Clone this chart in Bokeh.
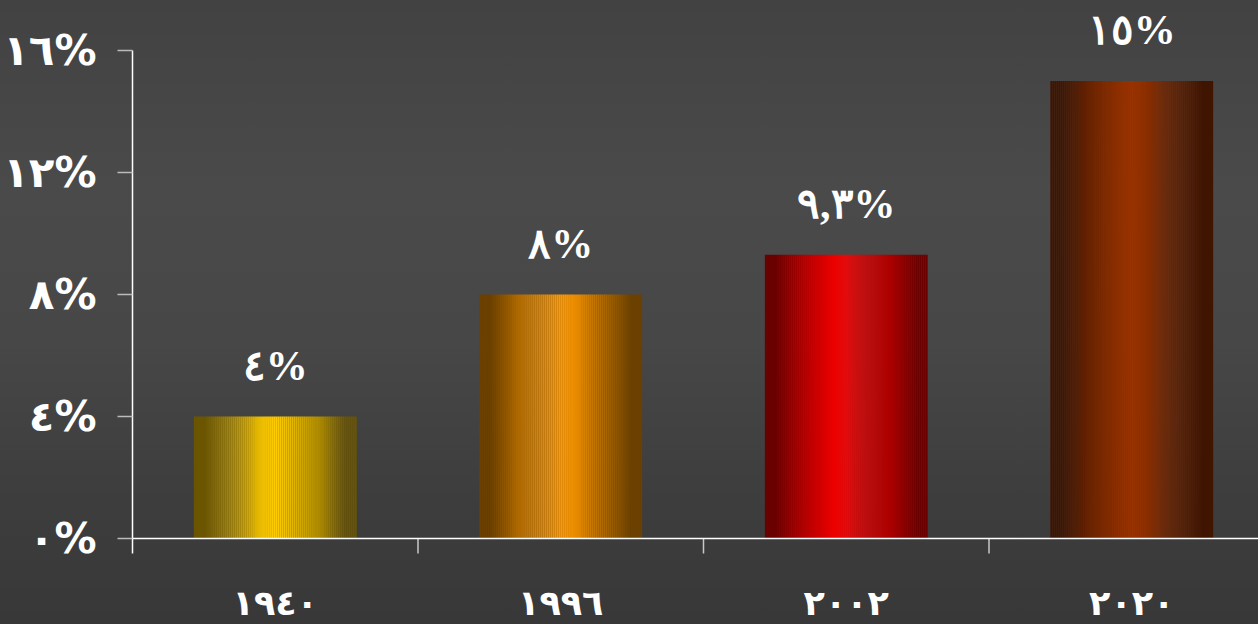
from bokeh.plotting import figure
from bokeh.models import (Range1d, FixedTicker, LinearAxis, Span, ColumnDataSource,
                          LabelSet, GlobalInlineStyleSheet)
from bokeh.core.properties import value
from bokeh.embed import file_html
from bokeh.resources import INLINE
import numpy as np

# ---- data ----
years = ["١٩٤٠", "١٩٩٦", "٢٠٠٢", "٢٠٢٠"]
values = [4, 8, 9.3, 15]
value_labels = ["٤%", "٨%", "٩,٣%", "١٥%"]
center_colors = ["#ffcc00", "#ff9900", "#ff0000", "#993300"]
y_ticks = [0, 4, 8, 12, 16]
y_tick_labels = ["٠%", "٤%", "٨%", "١٢%", "١٦%"]

FONT = "DejaVu Sans"
W, H = 1258, 624
left_b = 132
frame_w = W - left_b
px_per_cat = 285.5
px_per_unit = 30.5
zero_px = 538            # px of the zero line, from top
tick_len = 15
xlab_base_px = 602       # anchor of category labels

y_top = zero_px / px_per_unit
y_bot = -(H - zero_px) / px_per_unit
tick_bot = -tick_len / px_per_unit
xlab_y = -(xlab_base_px - zero_px) / px_per_unit

p = figure(width=W, height=H, output_backend="svg", toolbar_location=None,
           x_range=Range1d(0, frame_w / px_per_cat),
           y_range=Range1d(y_bot, y_top),
           min_border_left=left_b, min_border_right=0,
           min_border_top=0, min_border_bottom=0)
p.background_fill_alpha = 0
p.border_fill_alpha = 0
p.outline_line_color = None
p.grid.visible = False
p.xaxis.visible = False
p.yaxis.visible = False

p.stylesheets = [GlobalInlineStyleSheet(css=(
    "html{height:100%;background:linear-gradient(to bottom,#424242 0%,#4a4a4a 30%,"
    "#474747 55%,#3d3d3d 80%,#383838 100%);}"
    "body{background:transparent;}"))]

# ---- bars as horizontal-gradient slices ----
bar_w = 0.57
n_sl = 80
xs, tops, ws, cols = [], [], [], []
for i, (v, c) in enumerate(zip(values, center_colors)):
    r, g, b = int(c[1:3], 16), int(c[3:5], 16), int(c[5:7], 16)
    for k in range(n_sl):
        t = abs((k + 0.5) / n_sl * 2 - 1)
        f = 0.42 + 0.58 * max(0.0, 1 - min(1.0, t * 1.15) ** 1.2)
        xs.append(i + 0.5 - bar_w / 2 + (k + 0.5) * bar_w / n_sl)
        tops.append(v)
        ws.append(bar_w / n_sl * 1.03)
        cols.append("#%02x%02x%02x" % (int(r * f), int(g * f), int(b * f)))
p.vbar(x=xs, top=tops, bottom=0, width=ws, fill_color=cols, line_color=None)

# ---- axis lines ----
p.add_layout(Span(location=0, dimension="width", line_color="white", line_width=1.5))
n = len(years)
p.segment(x0=list(range(1, n)), x1=list(range(1, n)), y0=[0] * (n - 1),
          y1=[tick_bot] * (n - 1), line_color="#c8c8c8", line_width=1.5)

yax = LinearAxis(ticker=FixedTicker(ticks=y_ticks), bounds=(tick_bot, y_ticks[-1]),
                 major_label_overrides={t: l for t, l in zip(y_ticks, y_tick_labels)})
yax.axis_line_color = "white"
yax.axis_line_width = 1.5
yax.major_tick_line_color = "#bbbbbb"
yax.major_tick_line_width = 1.5
yax.major_tick_out = tick_len
yax.major_tick_in = 0
yax.minor_tick_line_color = None
yax.major_label_standoff = 21
yax.major_label_text_color = "white"
yax.major_label_text_font = FONT
yax.major_label_text_font_style = "bold"
yax.major_label_text_font_size = "42px"
p.add_layout(yax, "left")

# ---- category labels below the axis ----
xsrc = ColumnDataSource(dict(x=[i + 0.5 for i in range(n)], t=years))
p.text(x="x", y=xlab_y, text="t", source=xsrc,
       text_align="center", text_baseline="middle", text_color="white",
       text_font=value(FONT), text_font_style="bold", text_font_size="35px")

# ---- value labels ----
src = ColumnDataSource(dict(x=[i + 0.5 for i in range(n)], y=values, t=value_labels))
p.add_layout(LabelSet(x="x", y="y", text="t", source=src, y_offset=37,
                      text_align="center", text_baseline="alphabetic",
                      text_color="white", text_font=FONT, text_font_style="bold",
                      text_font_size="42px"))

open("out.html", "w").write(file_html(p, INLINE))
